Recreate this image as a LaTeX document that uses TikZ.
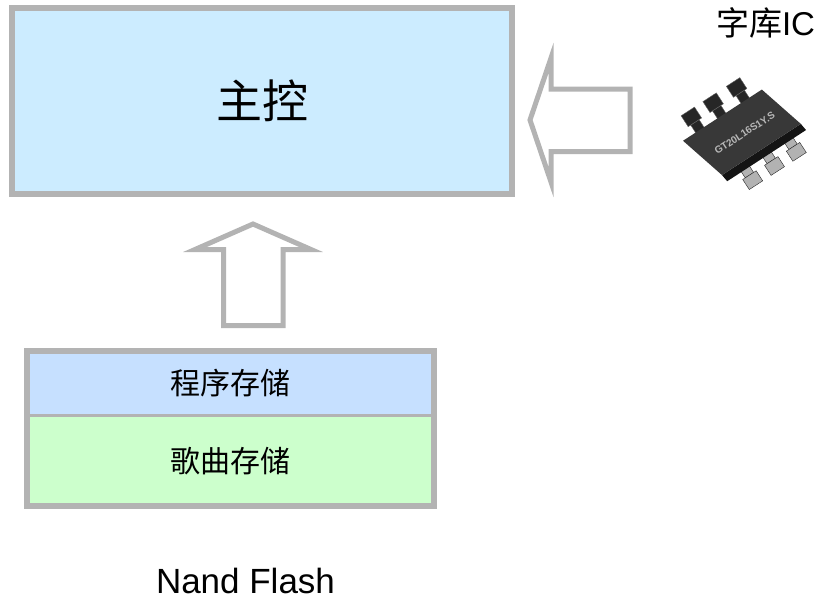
\documentclass[tikz,border=0pt]{standalone}
\usepackage{fontspec}
\setmainfont{Liberation Sans}
\newfontfamily\cjk{Noto Sans CJK SC}
\usepackage{xcolor}
\usepackage{tikz}
\usetikzlibrary{positioning}

\definecolor{boxgray}{HTML}{B3B3B3}
\definecolor{mainblue}{HTML}{CCECFF}
\definecolor{progblue}{HTML}{C6E0FF}
\definecolor{songgreen}{HTML}{CCFFCC}

\begin{document}
\begin{tikzpicture}[
    x=1pt, y=-1pt,
    block/.style={rectangle, draw=boxgray, line width=5.5pt, inner sep=0pt},
    layer/.style={rectangle, inner sep=0pt, outer sep=0pt, minimum width=407pt},
    hollow/.style={draw=boxgray, line width=5pt, fill=white, line join=miter},
    pinup/.style={fill=black!85, draw=black!60, line width=0.4pt},
    pindown/.style={fill=gray!60, draw=gray!30!black, line width=0.4pt}
]
\useasboundingbox (0,0) rectangle (836,605);

% 主控
\node[block, fill=mainblue, minimum width=500pt, minimum height=186pt] (main) at (262,101)
    {\cjk\fontsize{46}{50}\selectfont 主控};

% Nand Flash
\node[layer, fill=progblue, minimum height=64.5pt] (prog) at (230.5,383.25)
    {\cjk\fontsize{30}{34}\selectfont 程序存储};
\node[layer, fill=songgreen, minimum height=90.5pt, below=0pt of prog] (song)
    {\cjk\fontsize{30}{34}\selectfont 歌曲存储};
\draw[boxgray, line width=3pt] (prog.south west) -- (prog.south east);
\draw[boxgray, line width=5.5pt] (prog.north west) rectangle (song.south east);
\node[anchor=base, font=\fontsize{35}{40}\selectfont] (nand) at (245.5,593) {Nand Flash};

% 字库IC
\node[anchor=base, font=\fontsize{33}{38}\selectfont] (lib) at (765.5,35) {{\cjk 字库}IC};
\begin{scope}[shift={(743,134)}, rotate=33]
  \foreach \px in {-34,-8,20} {
    \draw[pinup] (\px-5,-36) rectangle (\px+5,-26);
    \draw[pinup] (\px-8,-49) rectangle (\px+8,-36);
  }
  \foreach \px in {-17,9,35} {
    \draw[pindown] (\px-5,29) rectangle (\px+5,38);
    \draw[pindown] (\px-8,38) rectangle (\px+8,50);
  }
  \fill[black!92] (-40,23) -- (54,23) -- (55,31) -- (-39,31) -- cycle;
  \fill[black!78] (-54,-27) -- (40,-27) -- (54,23) -- (-40,23) -- cycle;
  \node[rotate=33, text=black!28, font=\bfseries\fontsize{10}{12}\selectfont] (mark) at (2,0) {GT20L16S1Y.S};
\end{scope}

% 箭头
\draw[hollow] (530,120) -- (551,58) -- (551,89) -- (630,89) -- (630,151.5)
    -- (551,151.5) -- (551,182) -- cycle;
\draw[hollow] (253,224) -- (311,249.5) -- (283,249.5) -- (283,325.5)
    -- (223.5,325.5) -- (223.5,249.5) -- (195,249.5) -- cycle;

\end{tikzpicture}
\end{document}
